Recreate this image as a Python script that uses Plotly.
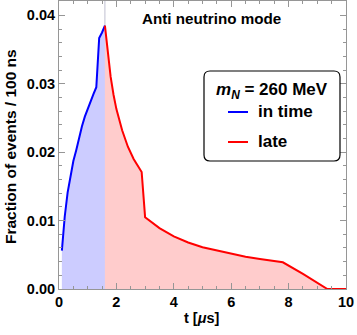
import plotly.graph_objects as go

# in-time events (blue), t in microseconds
t_in = [0.1, 0.2, 0.3, 0.4, 0.5, 0.6, 0.7, 0.8, 0.9, 1.0, 1.1, 1.2, 1.3, 1.4, 1.5, 1.6]
y_in = [0.0056, 0.0106, 0.0141, 0.0167, 0.0187, 0.0203, 0.0222, 0.0238, 0.0252, 0.0264,
        0.0275, 0.0285, 0.0295, 0.0367, 0.0375, 0.0385]

# late events (red)
t_late = [1.6, 1.7, 1.8, 1.9, 2.0, 2.2, 2.4, 2.6, 2.8, 2.88, 3.0, 3.5, 4.0, 4.5, 5.0,
          5.5, 6.0, 6.5, 7.0, 7.5, 7.8, 8.5, 9.35, 10.0]
y_late = [0.0385, 0.0345, 0.0310, 0.0284, 0.0263, 0.0232, 0.0208, 0.0190, 0.0176, 0.0171,
          0.0105, 0.0089, 0.0077, 0.0068, 0.0061, 0.0056, 0.0051, 0.0047, 0.0044, 0.0041,
          0.0039, 0.0022, 0.0, 0.0]

t_split = 1.6

font = dict(family="Liberation Sans, Arial", size=14.5, color="black", weight="bold")
frame = "rgb(150,150,150)"

fig = go.Figure()
fig.add_trace(go.Scatter(x=t_in, y=y_in, mode="lines", fill="tozeroy",
                         fillcolor="rgb(204,204,255)",
                         line=dict(color="rgb(0,0,255)", width=2), showlegend=False))
fig.add_trace(go.Scatter(x=t_late, y=y_late, mode="lines", fill="tozeroy",
                         fillcolor="rgb(255,204,204)",
                         line=dict(color="rgb(255,0,0)", width=2), showlegend=False))

# thin divider at the in-time / late boundary
fig.add_shape(type="line", xref="x", yref="paper", x0=t_split, x1=t_split, y0=0, y1=1,
              line=dict(color="rgba(140,140,170,0.55)", width=1), layer="below")

# pixel -> paper helpers (plot area is 59..346 x 1..289)
def px(x):
    return (x - 59) / 287

def py(y):
    return (289 - y) / 288

# legend box with rounded corners
x0, x1, y0, y1 = px(204), px(340), py(161), py(71)
rx, ry = 6 / 287, 6 / 288
path = (f"M {x0+rx},{y1} L {x1-rx},{y1} Q {x1},{y1} {x1},{y1-ry} "
        f"L {x1},{y0+ry} Q {x1},{y0} {x1-rx},{y0} L {x0+rx},{y0} "
        f"Q {x0},{y0} {x0},{y0+ry} L {x0},{y1-ry} Q {x0},{y1} {x0+rx},{y1} Z")
fig.add_shape(type="path", xref="paper", yref="paper", path=path,
              line=dict(color="black", width=1.2), fillcolor="white")
fig.add_shape(type="line", xref="paper", yref="paper", x0=px(228), x1=px(248),
              y0=py(112), y1=py(112), line=dict(color="rgb(0,0,255)", width=2))
fig.add_shape(type="line", xref="paper", yref="paper", x0=px(228), x1=px(248),
              y0=py(142), y1=py(142), line=dict(color="rgb(255,0,0)", width=2))

leg_font = dict(font, size=17)
fig.add_annotation(xref="paper", yref="paper", x=px(271.5), y=py(91),
                   text="<i>m</i><sub><i>N</i></sub> = 260 MeV", showarrow=False,
                   font=leg_font, xanchor="center", yanchor="middle")
fig.add_annotation(xref="paper", yref="paper", x=px(256), y=py(111), text="in time",
                   showarrow=False, font=leg_font, xanchor="left", yanchor="middle")
fig.add_annotation(xref="paper", yref="paper", x=px(256), y=py(141), text="late",
                   showarrow=False, font=leg_font, xanchor="left", yanchor="middle")

fig.add_annotation(xref="paper", yref="paper", x=px(212), y=py(18), text="Anti neutrino mode",
                   showarrow=False, font=dict(font, size=15.2), xanchor="center",
                   yanchor="middle")

# axis titles
fig.add_annotation(xref="paper", yref="paper", x=px(202), y=py(318), text="t [<i>μ</i>s]",
                   showarrow=False, font=font, xanchor="center", yanchor="middle")
fig.add_annotation(xref="paper", yref="paper", x=px(10), y=py(147),
                   text="Fraction of events / 100 ns", textangle=-90, showarrow=False,
                   font=dict(font, size=15.5), xanchor="center", yanchor="middle")

fig.update_xaxes(range=[0, 10], tickvals=[0, 2, 4, 6, 8, 10], ticks="inside", ticklen=6,
                 tickcolor=frame, showline=True, linecolor=frame, mirror="allticks",
                 showgrid=False, zeroline=False, tickfont=font, automargin=False,
                 minor=dict(dtick=0.5, ticks="inside", ticklen=3, tickcolor=frame))
fig.update_yaxes(range=[0, 0.0421], tickvals=[0, 0.01, 0.02, 0.03, 0.04], tickformat=".2f",
                 ticks="inside", ticklen=6, tickcolor=frame, showline=True, linecolor=frame,
                 mirror="allticks", showgrid=False, zeroline=False, tickfont=font,
                 automargin=False,
                 minor=dict(dtick=0.002, ticks="inside", ticklen=3, tickcolor=frame))

fig.update_layout(width=357, height=335, margin=dict(l=59, r=11, t=1, b=46),
                  plot_bgcolor="white", paper_bgcolor="white")

# page body has a default 8px margin; drop it so the figure sits at the window corner
fig.write_html("out.html", config={"displayModeBar": False},
               post_script="document.body.style.margin='0';")
